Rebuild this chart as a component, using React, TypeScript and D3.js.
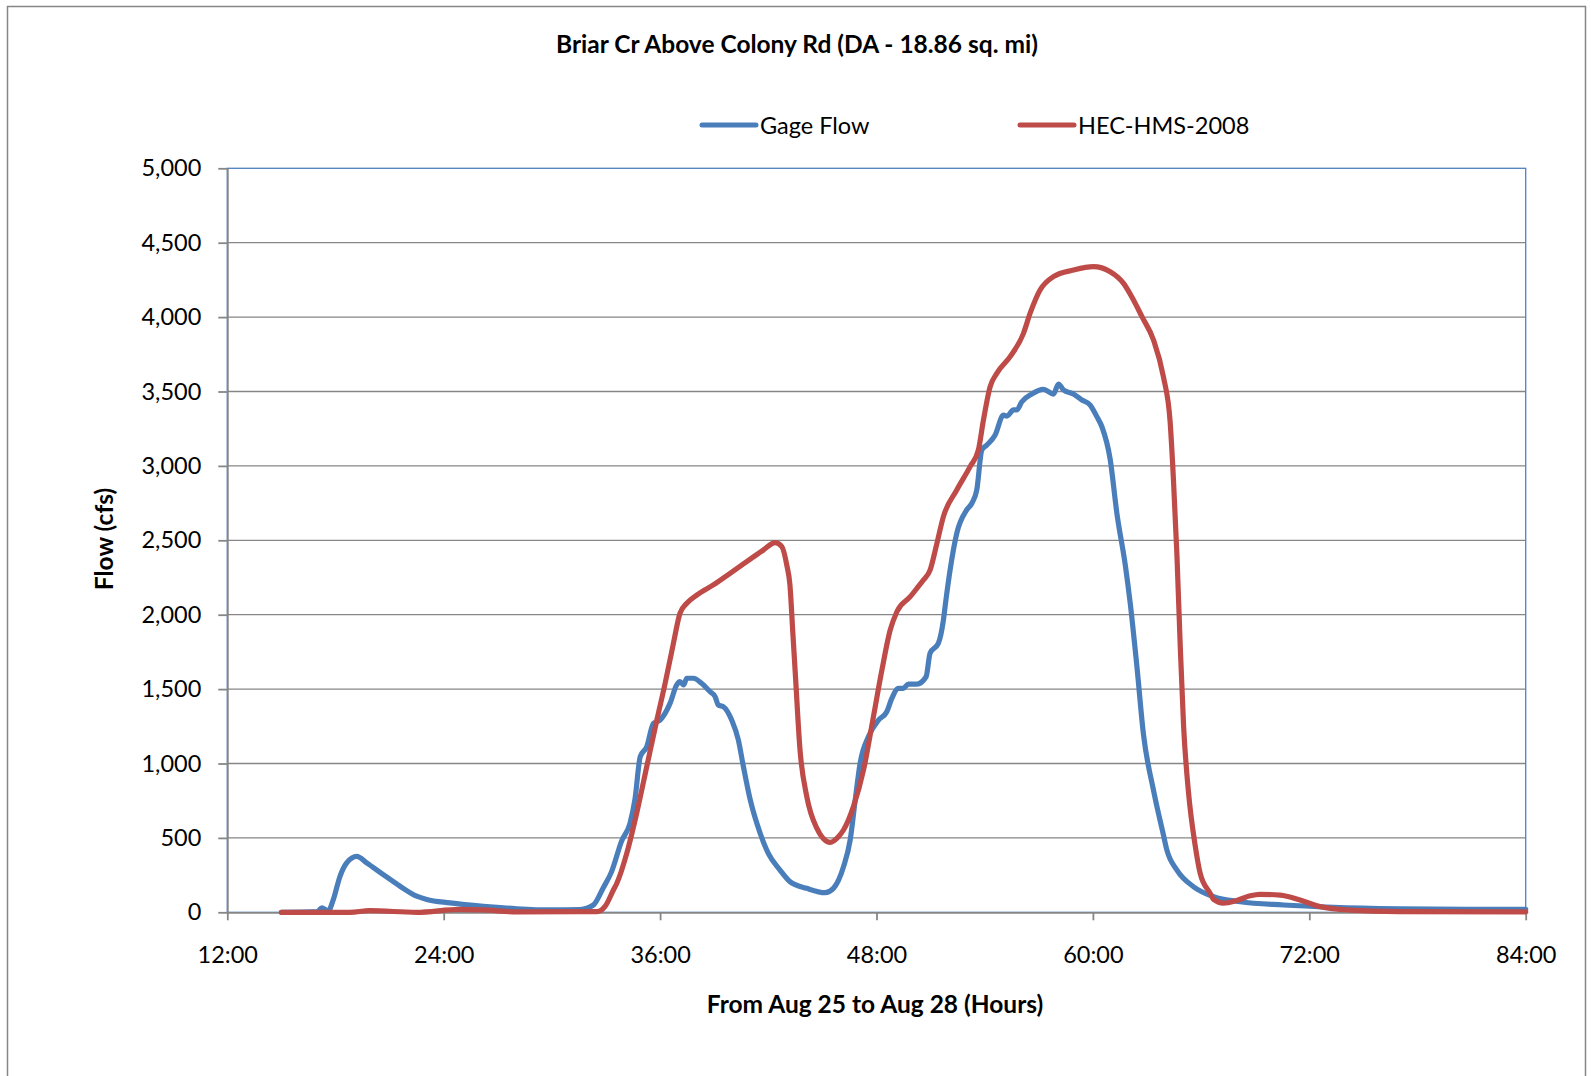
import React, { useRef, useEffect } from 'react';
import { select, scaleLinear, line, curveMonotoneX, axisLeft, axisBottom, range, format } from 'd3';

// hours after Aug 25 00:00, flow in cfs
const gageHours = [
    15, 17, 17.24, 17.6, 17.88, 18.25, 18.62, 19.18, 19.73, 20.65, 21.58, 22.5, 23.06, 24.35, 26.2, 28.05, 29.9,
    31.56, 32.3, 32.85, 33.3, 33.87, 34.33, 34.6, 34.9, 35.26, 35.63, 36, 36.55, 36.92, 37.1, 37.3, 37.48, 37.85,
    38.3, 38.77, 39.05, 39.23, 39.5, 39.97, 40.34, 40.62, 41, 41.55, 42, 42.65, 43.2, 44.13, 45.15, 45.61, 46.17,
    46.54, 46.82, 47.09, 47.55, 48.11, 48.57, 48.85, 49.22, 49.49, 49.77, 50.24, 50.75, 50.97, 51.43, 51.71,
    51.85, 52.08, 52.45, 53, 53.29, 53.56, 53.84, 54.12, 54.58, 55.04, 55.23, 55.6, 55.78, 56.06, 56.61, 57.26,
    57.81, 58.09, 58.37, 58.92, 59.39, 59.85, 60.22, 60.5, 60.96, 61.33, 61.8, 62.07, 62.45, 62.8, 63.36, 63.91,
    64.1, 64.66, 65.58, 66.69, 68.17, 70.57, 73.35, 77, 80.74, 84,
];
const gageFlow = [
    0, 5, 30, 10, 86, 242, 332, 376, 332, 253, 175, 108, 86, 63, 40, 24, 16,
    18, 49, 165, 270, 480, 598, 755, 1046, 1113, 1270, 1292, 1404, 1528, 1550, 1528, 1573, 1573,
    1539, 1483, 1449, 1393, 1382, 1292, 1158, 979, 755, 531, 396, 284, 206, 161, 132, 161, 306,
    486, 755, 1001, 1180, 1292, 1348, 1438, 1505, 1505, 1534, 1534, 1583, 1741, 1808, 1964,
    2099, 2300, 2547, 2704, 2749, 2838, 3107, 3140, 3208, 3342, 3335, 3376, 3376, 3431, 3483, 3514,
    3483, 3550, 3510, 3483, 3443, 3409, 3331, 3263, 3043, 2681, 2330, 2077, 1640, 1200, 820, 520,
    419, 284, 172, 105, 71, 49, 34, 24, 20, 20,
];
const hmsHours = [
    15, 18.8, 19.9, 22.5, 24.9, 26.2, 28.05, 32.5, 32.95, 33.41, 33.6, 34.15, 34.7, 35.26, 35.82, 36.28, 36.74,
    37.1, 37.48, 38.03, 38.95, 39.88, 40.8, 41.73, 42.38, 42.75, 43.03, 43.2, 43.35, 43.49, 43.76, 44.13, 44.69,
    45.43, 45.9, 46.17, 46.72, 47.28, 47.83, 48.3, 48.76, 49.13, 49.87, 50.24, 50.6, 50.97, 51.35, 51.71, 52.45,
    53.19, 53.65, 53.93, 54.3, 54.67, 55.41, 56.15, 56.52, 57.07, 57.81, 58.92, 60.03, 60.96, 61.7, 62.25, 62.72,
    63.36, 63.91, 64.28, 64.47, 64.66, 64.84, 65.03, 65.3, 65.67, 65.95, 66.5, 66.69, 67.24, 67.98, 68.72, 69.27,
    70.38, 71.49, 72.6, 74.26, 77, 84,
];
const hmsFlow = [
    0, 0, 11, 0, 20, 16, 3, 5, 40, 150, 195, 396, 665, 979, 1292, 1539, 1808,
    2009, 2077, 2132, 2200, 2278, 2356, 2435, 2484, 2457, 2330, 2200, 1900, 1620, 1090, 780, 565,
    470, 510, 553, 710, 956, 1315, 1628, 1897, 2020, 2121, 2177, 2233, 2300, 2480, 2659, 2838,
    2995, 3107, 3308, 3532, 3622, 3734, 3891, 4026, 4182, 4272, 4316, 4339, 4305, 4227, 4115, 4003,
    3846, 3599, 3300, 2900, 2400, 1800, 1250, 808, 450, 262, 128, 87, 62, 80, 111, 121,
    116, 83, 38, 15, 5, 3,
];

const seriesNames = ['Gage Flow', 'HEC-HMS-2008'];
const seriesColors = ['#4a7ebb', '#be4b48'];
const yTicks = range(0, 5001, 500);
const xTicks = [12, 24, 36, 48, 60, 72, 84];

const W = 1591;
const H = 1076;
const FONT = 'Lato, "Open Sans", sans-serif';
const FS = 23.5;
const FS_BOLD = 24.5;

export default function App() {
    const svgRef: { current: SVGSVGElement | null } = useRef(null);

    useEffect(() => {
        const svg = select(svgRef.current as any);
        svg.selectAll('*').remove();

        const x = scaleLinear().domain([12, 84]).range([227.3, 1525.7]);
        const y = scaleLinear().domain([0, 5000]).range([912.3, 168.3]);

        // chart border
        svg.append('rect')
            .attr('x', 7.5).attr('y', 6.5).attr('width', 1578).attr('height', 1090)
            .attr('fill', '#fff').attr('stroke', '#868686').attr('stroke-width', 1.5);

        svg.append('text')
            .attr('x', 797).attr('y', 52.5)
            .attr('text-anchor', 'middle')
            .attr('font-family', FONT).attr('font-size', FS_BOLD).attr('font-weight', 700)
            .text('Briar Cr Above Colony Rd (DA - 18.86 sq. mi)');

        // gridlines
        svg.append('g')
            .selectAll('line')
            .data(yTicks.filter((t) => t > 0 && t < 5000))
            .join('line')
            .attr('x1', x(12)).attr('x2', x(84))
            .attr('y1', (d) => y(d)).attr('y2', (d) => y(d))
            .attr('stroke', '#868686').attr('stroke-width', 1.3);

        // plot area border (blue)
        svg.append('rect')
            .attr('x', x(12)).attr('y', y(5000))
            .attr('width', x(84) - x(12)).attr('height', y(0) - y(5000))
            .attr('fill', 'none').attr('stroke', '#4f81bd').attr('stroke-width', 1.3);

        const yAxis: any = axisLeft(y).tickValues(yTicks).tickFormat(format(',') as any).tickSize(9).tickSizeOuter(0).tickPadding(17);
        const xAxis: any = axisBottom(x).tickValues(xTicks).tickFormat((d: any) => `${d}:00`).tickSize(8).tickSizeOuter(0).tickPadding(26.3);

        const gy = svg.append('g').attr('transform', `translate(${x(12)},0)`).call(yAxis);
        const gx = svg.append('g').attr('transform', `translate(0,${y(0)})`).call(xAxis);
        [gy, gx].forEach((g) => {
            g.select('.domain').attr('stroke', '#868686').attr('stroke-width', 1.8);
            g.selectAll('.tick line').attr('stroke', '#868686').attr('stroke-width', 1.8);
            g.selectAll('.tick text').attr('font-family', FONT).attr('font-size', FS).attr('fill', '#000');
        });

        // series
        const series = [
            gageHours.map((h, i) => [h, gageFlow[i]]),
            hmsHours.map((h, i) => [h, hmsFlow[i]]),
        ];
        const path: any = line()
            .x((d) => x(d[0]))
            .y((d) => y(d[1]))
            .curve(curveMonotoneX);

        svg.append('g')
            .selectAll('path')
            .data(series)
            .join('path')
            .attr('d', path)
            .attr('fill', 'none')
            .attr('stroke', (d, i) => seriesColors[i])
            .attr('stroke-width', 5.2)
            .attr('stroke-linejoin', 'round')
            .attr('stroke-linecap', 'round');

        // legend
        const legendX = [702, 1020];
        const lg = svg.append('g')
            .selectAll('g')
            .data(seriesNames)
            .join('g')
            .attr('transform', (d, i) => `translate(${legendX[i]},125)`);
        lg.append('line')
            .attr('x1', 0).attr('x2', 54)
            .attr('stroke', (d, i) => seriesColors[i])
            .attr('stroke-width', 5).attr('stroke-linecap', 'round');
        lg.append('text')
            .attr('x', 58).attr('y', 9)
            .attr('font-family', FONT).attr('font-size', FS)
            .text((d) => d);

        // axis titles
        svg.append('text')
            .attr('transform', 'translate(113,539) rotate(-90)')
            .attr('text-anchor', 'middle')
            .attr('font-family', FONT).attr('font-size', FS_BOLD).attr('font-weight', 700)
            .text('Flow (cfs)');
        svg.append('text')
            .attr('x', 875).attr('y', 1012.7)
            .attr('text-anchor', 'middle')
            .attr('font-family', FONT).attr('font-size', FS_BOLD).attr('font-weight', 700)
            .text('From Aug 25 to Aug 28 (Hours)');
    }, []);

    return (
        <svg
            ref={svgRef}
            width={W}
            height={H}
            style={{ position: 'absolute', left: 0, top: 0, background: '#fff' }}
        />
    );
}
